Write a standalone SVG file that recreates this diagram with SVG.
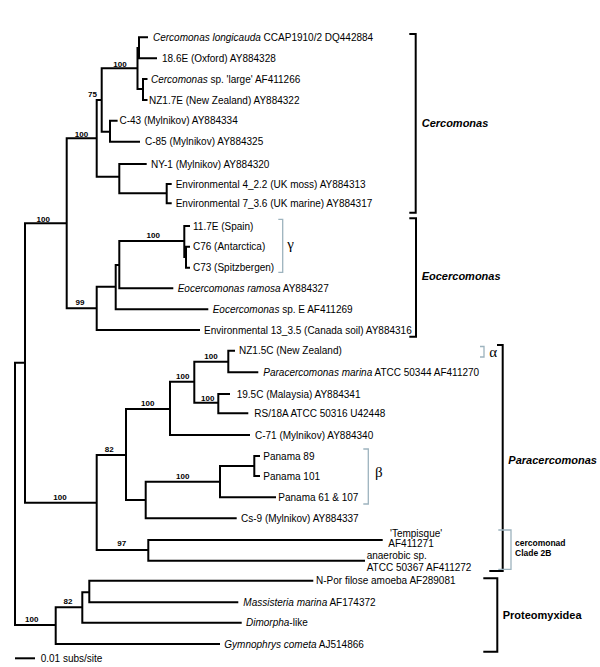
<svg xmlns="http://www.w3.org/2000/svg" width="600" height="667" viewBox="0 0 600 667">
<style>
.br{fill:none;stroke:#000;stroke-width:2;stroke-linejoin:miter;stroke-linecap:butt}
.bk{fill:none;stroke:#000;stroke-width:2}
.gy{fill:none;stroke:#9db3be;stroke-width:1.3}
.lf{font-family:"Liberation Sans",Arial,sans-serif;font-size:10px;fill:#000}
.bs{font-family:"Liberation Sans",Arial,sans-serif;font-size:8px;font-weight:bold;fill:#000;text-anchor:middle}
.gl{font-family:"Liberation Sans",Arial,sans-serif;font-size:11px;font-weight:bold;fill:#000}
.gr{font-family:"Liberation Serif","Times New Roman",serif;font-size:15px;fill:#000}
.sm{font-family:"Liberation Sans",Arial,sans-serif;font-size:8.5px;font-weight:bold;fill:#000}
</style>
<rect width="600" height="667" fill="#fff"/>
<g id="connectors" class="br">
<path d="M25,362.7 H15 V625 H55.7"/>
<path d="M66.7,223.3 H25 V502.7 H96.7"/>
<path d="M96.7,138.3 H66.7 V308.3 H96.7"/>
<path d="M101.7,100 H96.7 V176.7 H119.3"/>
<path d="M137.5,68.3 H101.7 V131.7 H110"/>
<path d="M139,48 H137.5 V89 H143"/>
<path d="M148,37.3 H139 V58.3 H157"/>
<path d="M147.5,79 H143 V100 H147.5"/>
<path d="M117.6,120.7 H110 V141.7 H140"/>
<path d="M146.7,164 H119.3 V193.3 H166.7"/>
<path d="M171.7,184 H166.7 V203.3 H171.7"/>
<path d="M115.7,286.7 H96.7 V330 H200"/>
<path d="M119.3,265 H115.7 V309.3 H208.3"/>
<path d="M184.3,241 H119.3 V288.3 H173.3"/>
<path d="M190,226 H184.3 V257 H186"/>
<path d="M190,246.7 H186 V267.7 H190"/>
<path d="M126,455 H96.7 V550 H148.3"/>
<path d="M170,409 H126 V500 H145.7"/>
<path d="M194.3,381.7 H170 V435 H250"/>
<path d="M228.3,361.7 H194.3 V402.7 H218.3"/>
<path d="M235,350.7 H228.3 V372.3 H258.3"/>
<path d="M230,394 H218.3 V413.3 H248.3"/>
<path d="M220,481.7 H145.7 V518.3 H236.7"/>
<path d="M254.3,466 H220 V497.3 H276"/>
<path d="M260,456 H254.3 V476 H260"/>
<path d="M382.7,540 H148.3 V560.7 H365"/>
<path d="M82.3,607.3 H55.7 V644 H220"/>
<path d="M89.3,592.3 H82.3 V622.7 H241.7"/>
<path d="M313.3,580.7 H89.3 V602.3 H238.3"/>
</g>
<g id="support">
<text class="bs" x="120" y="66.5">100</text>
<text class="bs" x="92.5" y="97">75</text>
<text class="bs" x="81.5" y="136.5">100</text>
<text class="bs" x="43.3" y="221.7">100</text>
<text class="bs" x="153.3" y="237.7">100</text>
<text class="bs" x="80" y="305">99</text>
<text class="bs" x="211" y="359.3">100</text>
<text class="bs" x="207.7" y="401">100</text>
<text class="bs" x="182.7" y="379.3">100</text>
<text class="bs" x="147.7" y="406">100</text>
<text class="bs" x="109.3" y="451.7">82</text>
<text class="bs" x="182.7" y="479.3">100</text>
<text class="bs" x="60" y="500">100</text>
<text class="bs" x="121.7" y="546">97</text>
<text class="bs" x="68" y="604">82</text>
<text class="bs" x="31.7" y="622">100</text>
</g>
<g id="leaves">
<g id="n-longicauda"><text class="lf" x="153" y="40.9"><tspan font-style="italic">Cercomonas longicauda</tspan> CCAP1910/2 DQ442884</text></g>
<g id="n-186e"><text class="lf" x="162" y="61.9">18.6E (Oxford) AY884328</text></g>
<g id="n-large"><text class="lf" x="151" y="82.6"><tspan font-style="italic">Cercomonas</tspan> sp. 'large' AF411266</text></g>
<g id="n-nz17e"><text class="lf" x="149" y="103.6">NZ1.7E (New Zealand) AY884322</text></g>
<g id="n-c43"><text class="lf" x="119.5" y="124.3">C-43 (Mylnikov) AY884334</text></g>
<g id="n-c85"><text class="lf" x="145" y="145.3">C-85 (Mylnikov) AY884325</text></g>
<g id="n-ny1"><text class="lf" x="151" y="167.6">NY-1 (Mylnikov) AY884320</text></g>
<g id="n-env4"><text class="lf" x="175.7" y="187.6">Environmental 4_2.2 (UK moss) AY884313</text></g>
<g id="n-env7"><text class="lf" x="175.7" y="206.9">Environmental 7_3.6 (UK marine) AY884317</text></g>
<g id="n-117e"><text class="lf" x="193" y="229.6">11.7E (Spain)</text></g>
<g id="n-c76"><text class="lf" x="193" y="250.3">C76 (Antarctica)</text></g>
<g id="n-c73"><text class="lf" x="193" y="271.3">C73 (Spitzbergen)</text></g>
<g id="n-ramosa"><text class="lf" x="177.7" y="291.9"><tspan font-style="italic">Eocercomonas ramosa</tspan> AY884327</text></g>
<g id="n-spe"><text class="lf" x="212.7" y="312.9"><tspan font-style="italic">Eocercomonas</tspan> sp. E AF411269</text></g>
<g id="n-env13"><text class="lf" x="204" y="333.6">Environmental 13_3.5 (Canada soil) AY884316</text></g>
<g id="n-nz15c"><text class="lf" x="239" y="354.3">NZ1.5C (New Zealand)</text></g>
<g id="n-marina"><text class="lf" x="263.3" y="375.9"><tspan font-style="italic">Paracercomonas marina</tspan> ATCC 50344 AF411270</text></g>
<g id="n-195c"><text class="lf" x="236.7" y="397.6">19.5C (Malaysia) AY884341</text></g>
<g id="n-rs18a"><text class="lf" x="254.3" y="416.9">RS/18A ATCC 50316 U42448</text></g>
<g id="n-c71"><text class="lf" x="255" y="438.6">C-71 (Mylnikov) AY884340</text></g>
<g id="n-pan89"><text class="lf" x="263.3" y="459.6">Panama 89</text></g>
<g id="n-pan101"><text class="lf" x="263.3" y="479.6">Panama 101</text></g>
<g id="n-pan61"><text class="lf" x="278.3" y="500.9">Panama 61 &amp; 107</text></g>
<g id="n-cs9"><text class="lf" x="241" y="521.9">Cs-9 (Mylnikov) AY884337</text></g>
<g id="n-tempisque"><text class="lf" x="390" y="536.6">'Tempisque'</text><text class="lf" x="388.3" y="546.9">AF411271</text></g>
<g id="n-anaerobic"><text class="lf" x="366.7" y="559.3">anaerobic sp.</text><text class="lf" x="366.7" y="570.9">ATCC 50367 AF411272</text></g>
<g id="n-npor"><text class="lf" x="316" y="584.3">N-Por filose amoeba AF289081</text></g>
<g id="n-massisteria"><text class="lf" x="243.3" y="605.9"><tspan font-style="italic">Massisteria marina</tspan> AF174372</text></g>
<g id="n-dimorpha"><text class="lf" x="246" y="626.3"><tspan font-style="italic">Dimorpha</tspan>-like</text></g>
<g id="n-gymnophrys"><text class="lf" x="224.3" y="647.6"><tspan font-style="italic">Gymnophrys cometa</tspan> AJ514866</text></g>
</g>
<g id="groups">
<g id="g-cercomonas"><path class="bk" d="M409.3,34 H415.7 V212.7 H409.3"/><text class="gl" font-style="italic" x="421.7" y="126.7">Cercomonas</text></g>
<g id="g-eocercomonas"><path class="bk" d="M409.3,218.3 H416 V336.7 H409.3"/><text class="gl" font-style="italic" x="421.7" y="279.7">Eocercomonas</text></g>
<g id="g-paracercomonas"><path class="bk" d="M497,345 H502.7 V571 H489.3"/><text class="gl" font-style="italic" x="508.3" y="464">Paracercomonas</text></g>
<g id="g-proteomyxidea"><path class="bk" d="M483.3,578.3 H497.3 V651.7 H483.3"/><text class="gl" x="502.7" y="619">Proteomyxidea</text></g>
<g id="g-gamma"><path class="gy" d="M278.3,219.3 H282.7 V272.3 H278.3"/><text class="gr" x="287.3" y="249">γ</text></g>
<g id="g-alpha"><path class="gy" d="M480,346.5 H484 V357 H480"/><text class="gr" x="489.3" y="357">α</text></g>
<g id="g-beta"><path class="gy" d="M363.3,449 H368.3 V504 H363.3"/><text class="gr" x="375" y="477">β</text></g>
<g id="g-clade2b"><path class="gy" d="M498.3,530 H511 V569.3 H498.3"/><text class="sm" x="515" y="545.7">cercomonad</text><text class="sm" x="515" y="555.7">Clade 2B</text></g>
</g>
<g id="scale">
<path class="bk" d="M15,658.3 H35"/>
<text class="lf" x="40.7" y="661.8">0.01 subs/site</text>
</g>
</svg>
